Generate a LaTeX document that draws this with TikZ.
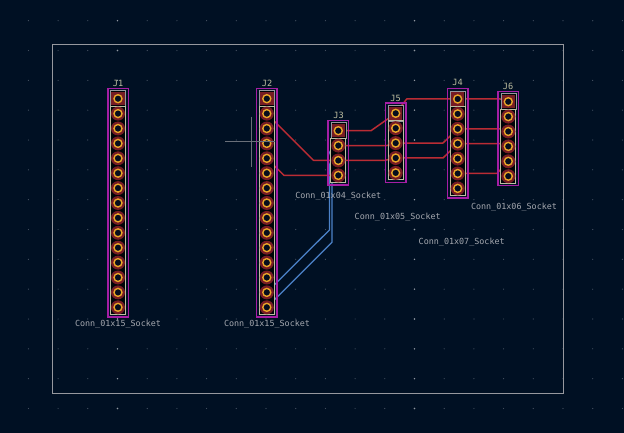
\documentclass[tikz,border=0pt]{standalone}
\usepackage{xcolor}
\usepackage{fontspec}
\setmainfont{DejaVu Sans Mono}
\usetikzlibrary{backgrounds}
\definecolor{board}{RGB}{0, 16, 35}
\definecolor{griddot}{RGB}{72, 84, 100}
\definecolor{edgecut}{RGB}{150, 152, 158}
\definecolor{padred}{RGB}{118, 28, 36}
\definecolor{padring}{RGB}{235, 165, 40}
\definecolor{padhole}{RGB}{6, 14, 30}
\definecolor{trackred}{RGB}{186, 44, 52}
\definecolor{trackblue}{RGB}{76, 130, 200}
\definecolor{courtyard}{RGB}{165, 30, 165}
\definecolor{silk}{RGB}{190, 190, 160}
\definecolor{valuetext}{RGB}{165, 168, 175}
\tikzstyle{roundpad} = [
    circle,
    inner sep=0pt,
    minimum size=14pt,
    fill=padred,
    path picture={\draw[padring, line width=1.4pt, fill=padhole]
        (path picture bounding box.center) circle (4pt);}
]
\tikzstyle{squarepad} = [
    roundpad,
    rectangle,
    minimum size=13.4pt
]
\tikzstyle{track} = [
    line width=1.5pt,
    draw=trackred,
    line join=round
]
\tikzstyle{backtrack} = [
    track,
    line width=1.25pt,
    draw=trackblue
]
\tikzstyle{reflabel} = [
    inner sep=0pt,
    text=silk,
    font=\fontsize{8.6}{10}\selectfont
]
\tikzstyle{valuelabel} = [
    inner sep=0pt,
    text=valuetext,
    font=\fontsize{8.4}{10}\selectfont
]
\begin{document}
\begin{tikzpicture}[x=1pt,y=-1pt]
\useasboundingbox (0,0) rectangle (624,433);
\begin{scope}[on background layer]
    \fill[board] (0,0) rectangle (624,433);
    \foreach \i in {0,...,20} {
        \foreach \j in {0,...,13} {
            \fill[griddot] (28.4+29.7*\i,20.7+29.83*\j) circle (0.6);
        }
    }
    \foreach \i in {3,13} {
        \foreach \j in {0,...,13} {
            \fill[griddot!60!white] (28.4+29.7*\i,20.7+29.83*\j) circle (0.8);
        }
    }
    \draw[edgecut, line width=1pt] (52.8,44.5) rectangle (563.7,393.6);
\end{scope}
% footprints
\foreach \r/\x/\y/\n in {
    J1/118/98.7/15,
    J2/266.8/98.7/15,
    J3/338.3/130.7/4,
    J5/395.7/113.3/5,
    J4/457.7/99/7,
    J6/508.3/101.7/6
} {
    \pgfmathsetmacro{\yb}{\y+14.9*(\n-1)}
    \fill[black!75!board] (\x-7.5,\y-8) rectangle (\x+7.5,\yb+7);
    \draw[courtyard, line width=1.4pt] (\x-10.2,\y-10.4) rectangle (\x+10.2,\yb+9.6);
    \draw[edgecut, line width=0.5pt] (\x-7.5,\y-8) rectangle (\x+7.5,\y+7.5);
    \draw[silk, line width=0.9pt] (\x-7.5,\y+7.5) rectangle (\x+7.5,\yb+7);
    \node[squarepad] (\r-1) at (\x,\y) {};
    \foreach \i in {2,...,\n} {
        \node[roundpad] (\r-\i) at (\x,\y+14.9*\i-14.9) {};
    }
}
% reference and value texts
\node[reflabel] (refJ1) at (118,83) {J1};
\node[reflabel] (refJ2) at (267,83) {J2};
\node[reflabel] (refJ3) at (338.5,115) {J3};
\node[reflabel] (refJ5) at (395.5,98) {J5};
\node[reflabel] (refJ4) at (457.5,82.5) {J4};
\node[reflabel] (refJ6) at (508,86) {J6};
\node[valuelabel] (valJ1) at (118,324) {Conn\_01x15\_Socket};
\node[valuelabel] (valJ2) at (267,324) {Conn\_01x15\_Socket};
\node[valuelabel] (valJ3) at (338.3,196.5) {Conn\_01x04\_Socket};
\node[valuelabel] (valJ5) at (397.7,217.5) {Conn\_01x05\_Socket};
\node[valuelabel] (valJ4) at (461.7,242.5) {Conn\_01x07\_Socket};
\node[valuelabel] (valJ6) at (514,207.5) {Conn\_01x06\_Socket};
% tracks go under the pads
\begin{scope}[on background layer]
    \draw[backtrack] (J2-14.center) -- (329.4,230) -- (329.4,165) .. controls (326,156) and (329,149) .. (J3-2.center);
    \draw[backtrack] (J2-15.center) -- (332,242.3) -- (332,180) -- (J3-4.center);
    \draw[backtrack] (J6-2.center) -- (514,122) -- (514,170) -- (J6-6.center);
    \draw[track] (J2-2.center) -- (313.4,160.3) -- (J3-3.center);
    \draw[track] (J2-5.center) -- (284,175.4) -- (J3-4.center);
    \draw[track] (J3-1.center) -- (371,130.7) -- (J5-1.center) -- (406.7,99) -- (J4-1.center) -- (500,99) -- (J6-1.center);
    \draw[track] (J3-2.center) -- (387,145.5) -- (J5-3.center) -- (443,143) -- (J4-3.center) -- (500,128.8) -- (J6-3.center);
    \draw[track] (J3-3.center) -- (385,160.3) -- (J5-4.center) -- (443,158) -- (J4-4.center) -- (500,143.7) -- (J6-4.center);
    \draw[track] (J4-6.center) -- (497,173.5) -- (J6-5.center);
\end{scope}
% crosshair
\coordinate (crossW) at (225,141.5);
\coordinate (crossE) at (275,141.5);
\coordinate (crossN) at (251,116.7);
\coordinate (crossS) at (251,166.7);
\draw[edgecut!70!board, line width=0.7pt] (crossW) -- (crossE);
\draw[edgecut!70!board, line width=0.7pt] (crossN) -- (crossS);
\end{tikzpicture}
\end{document}
